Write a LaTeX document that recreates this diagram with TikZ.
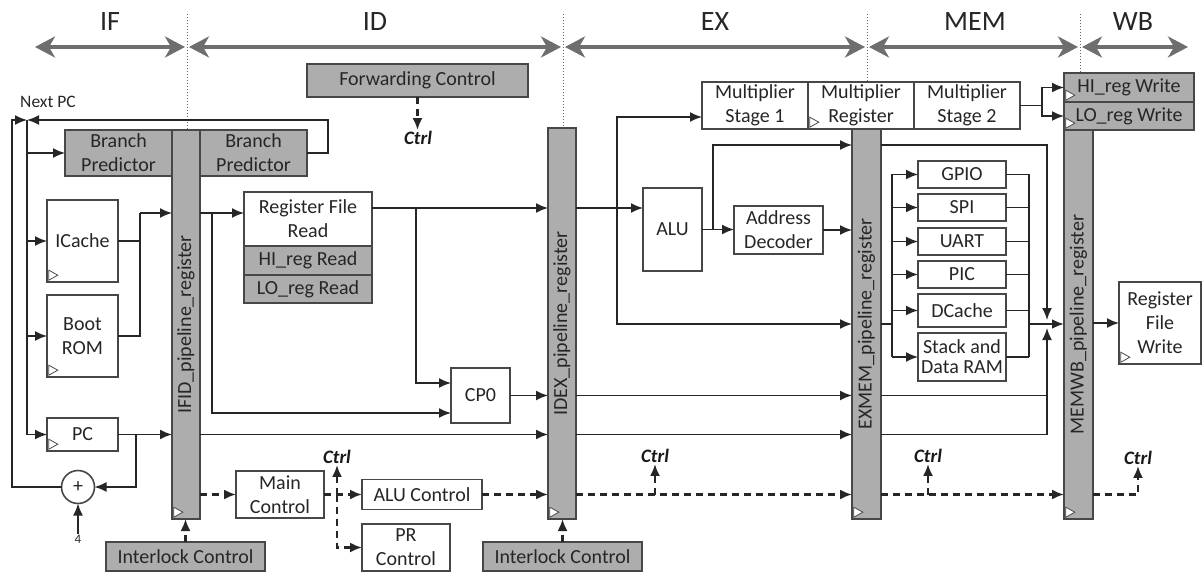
\documentclass[tikz,border=0pt]{standalone}
\usepackage{graphicx}
\usepackage{fontspec}
\setmainfont{Carlito}
\usetikzlibrary{arrows.meta}

\tikzset{
  blk/.style={draw=black!72, line width=1.6pt, fill=white, text=black!85, align=center, inner sep=0pt, outer sep=0pt},
  gblk/.style={blk, fill=black!32},
  reg/.style={gblk},
  sz/.style 2 args={minimum width=#1pt, minimum height=#2pt},
  wire/.style={draw=black!85, line width=1.6pt},
  ctl/.style={wire, dash pattern=on 7pt off 5pt, line width=2.2pt},
  stage/.style={draw=black!57, line width=4.5pt, >={Stealth[length=20pt,width=21pt,inset=6pt]}, <->},
  stg/.style={font=\fontsize{28}{28}\selectfont, text=black!85},
  clk/.style={draw=black!70, fill=white, line width=0.8pt},
  ctrlbl/.style={font=\fontsize{19}{20}\selectfont\bfseries\itshape, text=black!90, inner sep=1pt},
}
\newcommand{\clocktri}[1]{\draw[clk] ([shift={(1.8pt,1.8pt)}]#1.south west) -- ++(0,-10) -- ++(9,5) -- cycle;}

\begin{document}
\begin{tikzpicture}[x=1pt,y=-1pt,>={Latex[length=12pt,width=10pt]},font=\fontsize{20}{24}\selectfont]
\useasboundingbox (0,0) rectangle (1204,572);

\coordinate (top) at (0,14);
\foreach \x/\n in {33/b0,187/b1,563/b2,867/b3,1080/b4,1190/b5} \coordinate (\n) at (\x,47);
\foreach \a/\b in {b0/b1,b1/b2,b2/b3,b3/b4,b4/b5} \draw[stage] ([xshift=2pt]\a) -- ([xshift=-2pt]\b);
\node[stg] (lif) at (110,22) {IF};
\node[stg] (lid) at (375,22) {ID};
\node[stg] (lex) at (715,22) {EX};
\node[stg] (lmem) at (975,22) {MEM};
\node[stg] (lwb) at (1133,22) {WB};

\node[gblk,sz={221}{33}] (fwd) at (417.5,80.5) {Forwarding Control};
\node[ctrlbl] (ctrl0) at (418,138) {Ctrl};
\node[gblk,sz={107}{46}] (bpL) at (118.5,153) {Branch\\Predictor};
\node[reg,sz={28}{389}] (ifid) at (186,324.5) {\rotatebox{90}{IFID\_pipeline\_register}};
\node[gblk,sz={107}{46}] (bpR) at (253.5,153) {Branch\\Predictor};
\node[blk,sz={71}{82}] (icache) at (82.5,241) {ICache};
\node[blk,sz={71}{82}] (bootrom) at (82.5,336) {Boot\\ROM};
\node[blk,sz={71}{33}] (pc) at (82.5,434.5) {PC};
\node[blk,circle,minimum size=33pt] (add) at (78,487) {+};
\node[font=\fontsize{13}{13}\selectfont,text=black!85,inner sep=1pt] (four) at (78,539) {4};
\node[font=\fontsize{17.5}{17.5}\selectfont,text=black!85] (npclbl) at (48,102) {Next PC};
\node[gblk,sz={159}{29}] (ilL) at (185.5,556.5) {Interlock Control};

\node[blk,sz={128}{54}] (rfr) at (308,219) {Register File\\Read};
\node[gblk,sz={128}{29}] (hir) at (308,260.5) {HI\_reg Read};
\node[gblk,sz={128}{28}] (lor) at (308,289) {LO\_reg Read};
\node[blk,sz={59}{55}] (cp0) at (480.5,395.5) {CP0};
\node[blk,sz={88}{47}] (mainc) at (280,494.5) {Main\\Control};
\node[ctrlbl] (ctrl1) at (337,457) {Ctrl};
\node[blk,sz={120}{30}] (aluc) at (422,494.5) {ALU Control};
\node[blk,sz={88}{47}] (prc) at (406,547.5) {PR\\Control};
\node[reg,sz={28}{391}] (idex) at (562,323.5) {\rotatebox{90}{IDEX\_pipeline\_register}};
\node[gblk,sz={159}{29}] (ilR) at (562.5,556.5) {Interlock Control};

\node[blk,sz={106}{47}] (ms1) at (755,105.5) {Multiplier\\Stage 1};
\node[blk,sz={106}{47}] (mreg) at (861,105.5) {Multiplier\\Register};
\node[blk,sz={106}{47}] (ms2) at (967,105.5) {Multiplier\\Stage 2};
\node[blk,sz={59}{83}] (alu) at (672.5,229.5) {ALU};
\node[blk,sz={89}{48}] (adec) at (778.5,230) {Address\\Decoder};
\node[ctrlbl] (ctrl2) at (655,456) {Ctrl};
\node[reg,sz={29}{390}] (exmem) at (866.5,324) {\rotatebox{90}{EXMEM\_pipeline\_register}};

\node[blk,sz={88}{27}] (gpio) at (962,174.5) {GPIO};
\node[blk,sz={88}{27}] (spi) at (962,207.5) {SPI};
\node[blk,sz={88}{27}] (uart) at (962,241.5) {UART};
\node[blk,sz={88}{27}] (pic) at (962,274.5) {PIC};
\node[blk,sz={88}{33}] (dcache) at (962,310.5) {DCache};
\node[blk,sz={88}{48},font=\fontsize{20}{20}\selectfont] (ram) at (962,357) {Stack and\\Data RAM};
\node[ctrlbl] (ctrl3) at (928,456) {Ctrl};
\node[reg,sz={29}{389}] (memwb) at (1078.5,324.5) {\rotatebox{90}{MEMWB\_pipeline\_register}};

\node[gblk,sz={130}{29}] (hiw) at (1129,87.5) {HI\_reg Write};
\node[gblk,sz={130}{28}] (low) at (1129,116) {LO\_reg Write};
\node[blk,sz={82}{82}] (rfw) at (1160,323) {Register\\File\\Write};
\node[ctrlbl] (ctrl4) at (1138,458) {Ctrl};

\draw[dotted,black!60,line width=1pt] (b1 |- top) -- (b1 |- ifid.north);
\draw[dotted,black!60,line width=1pt] (b2 |- top) -- (b2 |- idex.north);
\draw[dotted,black!60,line width=1pt] (b3 |- top) -- (b3 |- mreg.north);
\draw[dotted,black!60,line width=1pt] (b4 |- top) -- (b4 |- hiw.north);

\coordinate (npc) at (27,120);
\coordinate (lp) at (12,120);
\coordinate (fb) at (328,120);
\draw[wire,->] (bpR.east) -| (fb) -- (npc);
\draw[wire,->] (add.west) -| (lp) -- (npc);
\draw[wire,->] (npc) |- (pc.west);
\foreach \n in {bpL,icache,bootrom} \draw[wire,->] (npc |- \n.west) -- (\n.west);
\coordinate (imux) at (140,213);
\draw[wire] (icache.east) -| (imux);
\draw[wire] (bootrom.east) -| (imux);
\draw[wire,->] (imux) -- (imux -| ifid.west);
\draw[wire,->] (pc.east) -- (pc.east -| ifid.west);
\coordinate (pcj) at (136,434.5);
\draw[wire,->] (pcj) |- (add.east);
\draw[wire,->] (four) -- (add.south);
\draw[ctl,->] (ilL.north) -- (ilL.north |- ifid.south);

\coordinate (id1) at (212,213);
\draw[wire,->] (ifid.east |- id1) -- (id1 -| rfr.west);
\draw[wire,->] (id1) |- ([yshift=-17.5pt]cp0.west);
\coordinate (rfo) at (416,208);
\draw[wire,->] (rfr.east |- rfo) -- (rfo -| idex.west);
\draw[wire,->] (rfo) |- ([yshift=12.5pt]cp0.west);
\draw[wire,->] (cp0.east) -- (cp0.east -| idex.west);
\draw[wire,->] (pc.east -| ifid.east) -- (pc.east -| idex.west);
\draw[ctl,->] (fwd.south) -- (fwd.south |- ctrl0.north);
\draw[ctl,->] (ifid.east |- mainc.west) -- (mainc.west);
\coordinate (mcj) at (337,494.5);
\draw[ctl,->] (mainc.east) -- (aluc.west);
\draw[ctl,->] (mcj) -- (ctrl1.south);
\draw[ctl,->] (mcj) |- (prc.west);
\draw[ctl,->] (aluc.east) -- (aluc.east -| idex.west);
\draw[ctl,->] (ilR.north) -- (ilR.north |- idex.south);

\coordinate (exj) at (617,208);
\draw[wire,->] (idex.east |- exj) -- (exj -| alu.west);
\draw[wire,->] (exj) |- ([yshift=-11.5pt]ms1.west);
\draw[wire,->] (exj) |- (exmem.west);
\coordinate (aluj) at (713,229.5);
\draw[wire,->] (alu.east) -- (alu.east -| adec.west);
\draw[wire,->] (aluj) |- ([yshift=-16pt]exmem.north west);
\draw[wire,->] (adec.east) -- (adec.east -| exmem.west);
\draw[wire,->] (cp0.east -| idex.east) -- (cp0.east -| exmem.west);
\draw[wire,->] (pc.east -| idex.east) -- (pc.east -| exmem.west);
\draw[ctl,->] (idex.east |- aluc.east) -- (aluc.east -| exmem.west);
\draw[ctl,->] (ctrl2.south |- aluc.east) -- (ctrl2.south);

\coordinate (mj) at (1042,105.5);
\draw[wire] (ms2.east) -- (mj);
\draw[wire,->] (mj) |- (hiw.west);
\draw[wire,->] (mj) |- (low.west);
\coordinate (pbus) at (892,324);
\coordinate (obus) at (1029,324);
\coordinate (wbm) at (1047,324);
\draw[wire,line width=2.4pt] (exmem.east) -- (pbus);
\draw[wire] (pbus |- gpio.west) -- (pbus |- ram.west);
\foreach \n in {gpio,spi,uart,pic,dcache,ram} {
  \draw[wire,->] (pbus |- \n.west) -- (\n.west);
  \draw[wire] (\n.east) -- (obus |- \n.east);
}
\draw[wire] (obus |- gpio.east) -- (obus |- ram.east);
\draw[wire,->,line width=2.4pt] (obus) -- (obus -| memwb.west);
\draw[wire,->] ([yshift=-16pt]exmem.north east) -| ([yshift=4pt]wbm);
\draw[wire] (pc.east -| exmem.east) -| (wbm |- cp0.east);
\draw[wire,->] (cp0.east -| exmem.east) -| ([yshift=-4pt]wbm);
\draw[ctl,->] (exmem.east |- aluc.east) -- (aluc.east -| memwb.west);
\draw[ctl,->] (ctrl3.south |- aluc.east) -- (ctrl3.south);

\draw[wire,->] (memwb.east |- rfw.west) -- (rfw.west);
\draw[ctl,->] (memwb.east |- aluc.east) -| (ctrl4.south);

\foreach \n in {icache,bootrom,pc,ifid,idex,exmem,memwb,mreg,hiw,low,rfw} {\clocktri{\n}}
\end{tikzpicture}
\end{document}
